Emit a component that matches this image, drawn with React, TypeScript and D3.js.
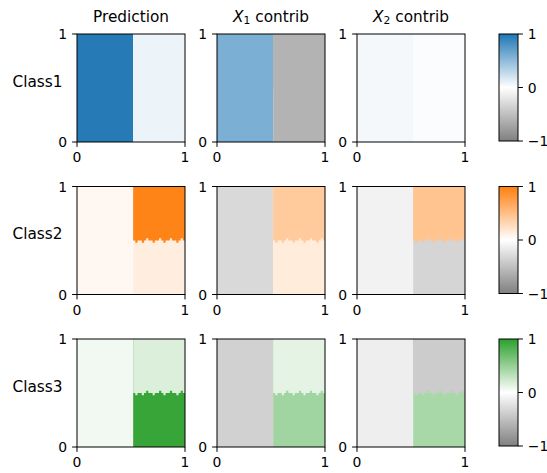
import React from 'react';
import * as d3 from 'd3';

// rows / columns of the figure
const classes = ['Class1', 'Class2', 'Class3'];
const classColors = ['#1f77b4', '#ff7f0e', '#2ca02c'];
const negColor = '#808080';
const colTitles = ['Prediction', 'X1 contrib', 'X2 contrib'];

// region values per class: left half, right-top, right-bottom
const predLeft = [0.97, 0.06, 0.06];
const predRightTop = [0.08, 0.96, 0.17];
const predRightBottom = [0.08, 0.13, 0.95];
const x1Left = [0.59, -0.3, -0.36];
const x1RightTop = [-0.6, 0.41, 0.13];
const x1RightBottom = [-0.6, 0.15, 0.45];
const x2Left = [0.05, -0.1, -0.13];
const x2RightTop = [0.02, 0.46, -0.4];
const x2RightBottom = [0.02, -0.33, 0.41];

// 50x50 grid, split column and ragged split row (from top) for right-half columns
const gridN = 50;
const splitCol = 26;
const splitRows = [25, 26, 25, 25, 26, 25, 24, 25, 25, 26, 25, 25, 24, 25, 26, 25, 25, 24, 25, 25, 26, 25, 24, 25];

const ticks01 = [0, 1];
const cbarTicks = [-1, 0, 1];

const W = 547;
const H = 473;
const size = 108;
const left0 = 77;
const dx = 140;
const top0 = 34;
const dy = 152.5;
const cbarX = 499;
const cbarW = 19;
const tickLen = 4.9;
const tickFs = 13.9;
const labelFs = 15.3;
const font = 'DejaVu Sans, sans-serif';

const colorFor = (v: number, c: string) =>
  v >= 0 ? d3.interpolateRgb('#ffffff', c)(v) : d3.interpolateRgb('#ffffff', negColor)(-v);

const panelValues = (col: number, k: number) => {
  if (col === 0) return [predLeft[k], predRightTop[k], predRightBottom[k]];
  if (col === 1) return [x1Left[k], x1RightTop[k], x1RightBottom[k]];
  return [x2Left[k], x2RightTop[k], x2RightBottom[k]];
};

const Panel = ({ col, k }: { col: number; k: number }) => {
  const x0 = left0 + col * dx;
  const y0 = top0 + k * dy;
  const xs = d3.scaleLinear().domain([0, 1]).range([0, size]);
  const ys = d3.scaleLinear().domain([0, 1]).range([size, 0]);
  const cell = d3.scaleLinear().domain([0, gridN]).range([0, size]);
  const [vl, vt, vb] = panelValues(col, k);
  const c = classColors[k];
  const pts: [number, number][] = splitRows.map((r, i) => [splitCol + i, r]);
  pts.push([gridN, splitRows[splitRows.length - 1]]);
  const topArea = d3
    .area<[number, number]>()
    .x((d) => cell(d[0]))
    .y0(0)
    .y1((d) => cell(d[1]))
    .curve(d3.curveStepAfter);
  return (
    <g transform={`translate(${x0},${y0})`}>
      <rect x={0} y={0} width={cell(splitCol)} height={size} fill={colorFor(vl, c)} />
      <rect x={cell(splitCol)} y={0} width={size - cell(splitCol)} height={size} fill={colorFor(vb, c)} />
      <path d={topArea(pts) || ''} fill={colorFor(vt, c)} />
      <rect x={0} y={0} width={size} height={size} fill="none" stroke="#000" strokeWidth={1} />
      {ticks01.map((t) => (
        <g key={'x' + t}>
          <line x1={xs(t)} x2={xs(t)} y1={size} y2={size + tickLen} stroke="#000" />
          <text x={xs(t)} y={size + 20.3} textAnchor="middle" fontSize={tickFs} fontFamily={font}>{t}</text>
        </g>
      ))}
      {ticks01.map((t) => (
        <g key={'y' + t}>
          <line x1={-tickLen} x2={0} y1={ys(t)} y2={ys(t)} stroke="#000" />
          <text x={-2 * tickLen} y={ys(t) + 5} textAnchor="end" fontSize={tickFs} fontFamily={font}>{t}</text>
        </g>
      ))}
    </g>
  );
};

const Colorbar = ({ k }: { k: number }) => {
  const y0 = top0 + k * dy;
  const cs = d3.scaleLinear().domain([-1, 1]).range([size - 1, 0]);
  const id = 'cb' + k;
  return (
    <g transform={`translate(${cbarX},${y0})`}>
      <defs>
        <linearGradient id={id} x1="0" x2="0" y1="0" y2="1">
          <stop offset="0%" stopColor={classColors[k]} />
          <stop offset="50%" stopColor="#ffffff" />
          <stop offset="100%" stopColor={negColor} />
        </linearGradient>
      </defs>
      <rect x={0} y={0} width={cbarW} height={size - 1} fill={`url(#${id})`} stroke="#000" strokeWidth={1} />
      {cbarTicks.map((t) => (
        <g key={t}>
          <line x1={cbarW} x2={cbarW + tickLen} y1={cs(t)} y2={cs(t)} stroke="#000" />
          <text x={cbarW + 2 * tickLen} y={cs(t) + 5} fontSize={tickFs} fontFamily={font}>
            {t < 0 ? '\u2212' + Math.abs(t) : t}
          </text>
        </g>
      ))}
    </g>
  );
};

const Title = ({ col }: { col: number }) => {
  const cx = left0 + col * dx + size / 2;
  const t = colTitles[col];
  if (col === 0) {
    return <text x={cx} y={21.5} textAnchor="middle" fontSize={labelFs} fontFamily={font}>{t}</text>;
  }
  const sym = t.slice(0, 2);
  const rest = t.slice(2);
  return (
    <text x={cx} y={21.5} textAnchor="middle" fontSize={labelFs} fontFamily={font}>
      <tspan fontStyle="italic">{sym[0]}</tspan>
      <tspan fontSize={10.7} dy={2.5}>{sym[1]}</tspan>
      <tspan dy={-2.5}>{rest}</tspan>
    </text>
  );
};

export default function App() {
  return (
    <svg width={W} height={H} style={{ position: 'absolute', left: 0, top: 0, background: '#fff' }}>
      {colTitles.map((_, col) => <Title key={col} col={col} />)}
      {classes.map((name, k) => (
        <g key={name}>
          <text x={62.5} y={top0 + k * dy + size / 2 - 1.5} textAnchor="end" fontSize={labelFs} fontFamily={font}>{name}</text>
          {colTitles.map((_, col) => <Panel key={col} col={col} k={k} />)}
          <Colorbar k={k} />
        </g>
      ))}
    </svg>
  );
}
